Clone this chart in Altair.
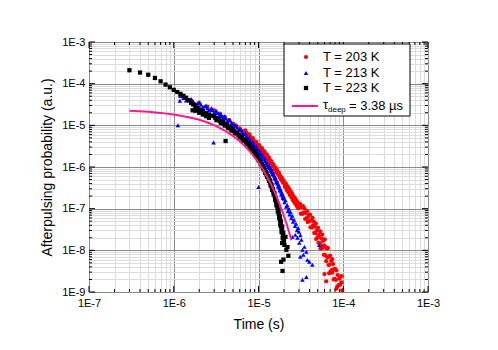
import altair as alt
import pandas as pd

FONT = "Liberation Sans, Arial, sans-serif"

# ---------------- data (time in microseconds, probability in a.u.) ----------------
t203_us = [1.2, 1.6, 2.0, 2.5, 3.0, 3.5, 4.0, 4.5, 5.0, 5.5, 6.0, 6.5,
           7.0, 7.4, 7.8, 8.2, 8.6, 9.0, 9.4, 9.8, 10.2, 10.6, 11.0, 11.4, 11.8, 12.2, 12.6, 13.0, 13.4, 13.8,
           14.2, 14.6, 15.0, 15.4, 15.8, 16.2, 16.6, 17.0, 17.4, 17.8, 18.2, 18.6, 19.0, 19.4, 19.8,
           20.5, 21.0, 21.5, 22.0, 22.5, 23.0, 23.5, 24.0, 24.5, 25.0, 25.5, 26.0, 26.5, 27.0, 27.5, 28.0,
           28.5, 29.0, 29.5, 30.0,
           31, 31.5, 32, 33, 33.5, 34, 35, 35.5, 36, 37, 37.5, 38, 39, 40, 40.5, 41, 42, 43, 43.5, 44, 45,
           45.5, 46, 47, 47.5, 48, 49, 50, 50.5, 51, 52, 53, 53.5, 54, 55, 56, 56.5, 57, 58, 59, 60, 60.5,
           61, 62, 63, 64, 65, 66, 67, 68, 69, 70, 71, 72, 73, 74, 75, 76, 77, 78, 79, 80, 82, 83, 85, 86,
           88, 90, 92, 95, 97,
           60, 68, 74, 63, 83, 95,
           7.2, 7.6, 8.0, 8.4, 8.8, 9.2, 9.6, 10.0, 10.4, 10.8, 11.2, 11.6, 12.0, 12.4, 12.8, 13.2, 13.6, 14.0,
           14.4, 14.8, 15.2, 15.6, 16.0, 16.4, 16.8, 17.2, 17.6, 18.0, 18.4, 18.8, 19.2, 19.6, 20.0, 20.75,
           21.25, 21.75, 22.25, 22.75, 23.25, 23.75, 24.25, 24.75, 25.25, 25.75, 26.25, 26.75, 27.25, 27.75,
           28.25, 28.75, 29.25, 29.75]
p203 = [5.0e-5, 4.0e-5, 3.4e-5, 2.8e-5, 2.3e-5, 1.9e-5, 1.6e-5, 1.35e-5, 1.1e-5, 9.6e-6, 8.4e-6, 7.3e-6,
        7.62e-6, 5.68e-6, 6.11e-6, 4.55e-6, 4.90e-6, 3.65e-6, 4.02e-6, 3.05e-6, 3.37e-6, 2.56e-6, 2.82e-6,
        2.15e-6, 2.36e-6, 1.80e-6, 1.98e-6, 1.51e-6, 1.66e-6, 1.26e-6, 1.39e-6, 1.06e-6, 1.16e-6, 8.87e-7,
        9.75e-7, 7.52e-7, 8.45e-7, 6.59e-7, 7.26e-7, 5.52e-7, 6.15e-7, 4.79e-7, 5.38e-7, 4.19e-7, 4.71e-7,
        3.33e-7, 4.05e-7, 2.82e-7, 3.43e-7, 2.43e-7, 2.99e-7, 2.11e-7, 2.60e-7, 1.84e-7, 2.26e-7, 1.60e-7,
        1.97e-7, 1.42e-7, 1.77e-7, 1.27e-7, 1.58e-7, 1.14e-7, 1.42e-7, 1.02e-7, 1.27e-7,
        1.30e-7, 7.59e-8, 1.08e-7, 7.53e-8, 1.15e-7, 8.09e-8, 9.98e-8, 5.65e-8, 7.85e-8, 5.92e-8, 8.61e-8,
        4.76e-8, 6.68e-8, 5.02e-8, 7.19e-8, 3.56e-8, 5.30e-8, 3.51e-8, 6.04e-8, 3.95e-8, 4.88e-8, 2.62e-8,
        3.72e-8, 2.58e-8, 4.39e-8, 1.87e-8, 3.05e-8, 2.07e-8, 3.46e-8, 1.52e-8, 2.34e-8, 1.50e-8, 2.87e-8,
        1.10e-8, 1.94e-8, 1.11e-8, 2.39e-8, 1.29e-8, 1.69e-8, 7.83e-9, 1.29e-8, 1.83e-8, 7.69e-9, 1.18e-8,
        5.48e-9, 1.11e-8, 6.79e-9, 1.14e-8, 4.42e-9, 7.10e-9, 4.55e-9, 7.48e-9, 3.13e-9, 5.57e-9, 3.30e-9,
        6.15e-9, 3.39e-9, 4.69e-9, 2.0e-9, 3.50e-9, 2.07e-9, 3.6e-9, 1.96e-9, 3.32e-9, 1.34e-9, 2.55e-9,
        1.46e-9, 2.09e-9, 1.5e-9, 1.7e-9, 1.1e-9,
        2.7e-9, 2.8e-9, 2.9e-9, 1.8e-9, 1.2e-9, 2.4e-9,
        6.58e-6, 5.89e-6, 5.27e-6, 4.72e-6, 4.23e-6, 3.83e-6, 3.50e-6, 3.21e-6, 2.94e-6, 2.69e-6, 2.46e-6,
        2.25e-6, 2.06e-6, 1.89e-6, 1.73e-6, 1.58e-6, 1.45e-6, 1.32e-6, 1.21e-6, 1.11e-6, 1.02e-6, 9.29e-7,
        8.51e-7, 7.97e-7, 7.46e-7, 6.92e-7, 6.32e-7, 5.79e-7, 5.42e-7, 5.07e-7, 4.75e-7, 4.45e-7, 4.16e-7,
        3.67e-7, 3.38e-7, 3.11e-7, 2.88e-7, 2.69e-7, 2.51e-7, 2.34e-7, 2.19e-7, 2.04e-7, 1.91e-7, 1.78e-7,
        1.67e-7, 1.58e-7, 1.50e-7, 1.42e-7, 1.34e-7, 1.27e-7, 1.20e-7, 1.14e-7]

t213_us = [1.12, 1.18, 2.95, 10.0,
           1.2, 1.4, 1.6, 1.8, 2.0, 2.2, 2.4, 2.6, 2.8, 3.0, 3.2, 3.4, 3.6, 3.8, 4.0, 4.3, 4.6, 5.0, 5.4, 5.8,
           6.2, 6.6, 7.0, 7.4, 7.8, 8.2, 8.6, 9.0, 9.4, 9.8, 10.2, 10.6, 11.0, 11.4, 11.8, 12.2, 12.6, 13.0,
           13.4, 13.8, 14.2, 14.6, 15.0, 15.4, 15.8, 16.2, 16.6, 17.0, 17.4, 17.8, 18.2, 18.6, 19.0, 19.4,
           19.8, 20.3, 20.8, 21.3, 21.8, 22.3, 22.8, 23.3, 23.8, 24.4, 25.0, 25.6, 26.3, 27.0, 27.7, 28.5,
           29.3, 30.0,
           25.1, 27.2, 28.8, 30.3, 31.2, 32.1, 33.0, 34.8, 33.8, 36.7, 31.2, 37.7, 43.2, 52.2, 33.0, 36.7, 39.8,
           1.3, 1.5, 1.7, 1.9, 2.1, 2.3, 2.5, 2.7, 2.9, 3.1, 3.3, 3.5, 3.7, 3.9, 4.15, 4.45, 4.8, 5.2, 5.6, 6.0,
           6.4, 6.8, 7.2, 7.6, 8.0, 8.4, 8.8, 9.2, 9.6, 10.0, 10.4, 10.8, 11.2, 11.6, 12.0, 12.4, 12.8, 13.2,
           13.6, 14.0, 14.4, 14.8, 15.2, 15.6, 16.0, 16.4, 16.8, 17.2, 17.6, 18.0, 18.4, 18.8, 19.2, 19.6, 20.0]
p213 = [1.0e-5, 3.9e-5, 3.85e-6, 3.3e-7,
        5.14e-5, 3.92e-5, 4.27e-5, 3.24e-5, 3.57e-5, 2.72e-5, 2.99e-5, 2.31e-5, 2.59e-5, 2.02e-5, 2.22e-5,
        1.69e-5, 1.88e-5, 1.47e-5, 1.65e-5, 1.24e-5, 1.35e-5, 9.86e-6, 1.04e-5, 7.57e-6, 8.05e-6, 6.0e-6,
        6.46e-6, 4.70e-6, 4.95e-6, 3.65e-6, 3.93e-6, 2.92e-6, 3.15e-6, 2.34e-6, 2.52e-6, 1.88e-6, 2.02e-6,
        1.51e-6, 1.62e-6, 1.21e-6, 1.30e-6, 9.68e-7, 1.07e-6, 8.11e-7, 8.83e-7, 6.59e-7, 7.10e-7, 5.28e-7,
        5.69e-7, 4.24e-7, 4.56e-7, 3.40e-7, 3.66e-7, 2.72e-7, 2.93e-7, 2.18e-7, 2.35e-7, 1.79e-7, 1.97e-7,
        1.42e-7, 1.58e-7, 1.11e-7, 1.23e-7, 8.79e-8, 1.0e-7, 7.24e-8, 8.28e-8, 5.92e-8, 6.75e-8, 4.85e-8,
        5.43e-8, 3.85e-8, 4.32e-8, 3.05e-8, 3.44e-8, 2.78e-8,
        2.1e-8, 2.35e-8, 2.0e-8, 1.51e-8, 2.3e-8, 1.79e-8, 1.03e-8, 1.21e-8, 7.8e-9, 9.2e-9, 7.0e-9,
        5.9e-9, 4.5e-9, 1.35e-8, 1.96e-9, 2.3e-9, 5.3e-9,
        4.54e-5, 4.06e-5, 3.72e-5, 3.40e-5, 3.12e-5, 2.85e-5, 2.61e-5, 2.44e-5, 2.29e-5, 2.12e-5, 1.94e-5,
        1.77e-5, 1.66e-5, 1.55e-5, 1.43e-5, 1.30e-5, 1.16e-5, 1.01e-5, 8.87e-6, 7.76e-6, 6.95e-6, 6.22e-6,
        5.51e-6, 4.83e-6, 4.23e-6, 3.78e-6, 3.39e-6, 3.03e-6, 2.72e-6, 2.43e-6, 2.18e-6, 1.95e-6, 1.75e-6,
        1.56e-6, 1.40e-6, 1.25e-6, 1.12e-6, 1.02e-6, 9.29e-7, 8.51e-7, 7.62e-7, 6.84e-7, 6.12e-7, 5.48e-7,
        4.91e-7, 4.40e-7, 3.94e-7, 3.52e-7, 3.15e-7, 2.82e-7, 2.53e-7, 2.26e-7, 2.05e-7, 1.88e-7, 1.72e-7]

t223_us = [0.3, 0.4, 0.5, 0.6, 0.7, 0.8, 0.9, 1.0, 1.1, 1.2, 1.3, 1.4,
           1.5, 1.6, 1.67, 1.7, 1.8, 1.8, 1.9, 2.0, 2.0, 2.2, 2.2, 2.4, 2.4, 2.6, 2.6, 2.8,
           3.0, 3.2, 3.4, 3.6, 3.8, 4.0, 4.09, 4.2, 4.4, 4.6, 4.8, 5.0, 5.3, 5.6, 6.0, 6.3, 6.6, 7.0, 7.3,
           7.6, 8.0, 8.3, 8.6, 9.0, 9.3, 9.6, 10.0, 10.3, 10.6, 11.0, 11.3, 11.6, 12.0, 12.3, 12.6, 13.0,
           13.3, 13.6, 13.9, 14.2, 14.5, 14.8, 15.1, 15.4, 15.7, 16.0, 16.3, 16.6, 16.9, 17.2, 17.5, 17.8,
           18.1, 18.4, 18.7, 19.0, 19.3, 19.6, 20.0,
           18.5, 19.2, 22.5, 19.7, 21.3, 20.8, 20.2, 18.7, 22.0, 19.0,
           3.1, 3.5, 3.9, 4.3, 4.7, 5.15, 5.45, 5.8, 6.15, 6.45, 6.8, 7.15, 7.45, 7.8, 8.15, 8.45, 8.8, 9.15,
           9.45, 9.8, 10.15, 10.45, 10.8, 11.15, 11.45, 11.8, 12.15, 12.45, 12.8, 13.15, 13.45, 13.75, 14.05,
           14.35, 14.65, 14.95, 15.25, 15.55, 15.85, 16.15, 16.45, 16.75, 17.05, 17.35, 17.65, 17.95, 18.25,
           18.55, 18.85, 19.15, 19.45, 19.8]
p223 = [2.1e-4, 1.85e-4, 1.64e-4, 1.37e-4, 1.14e-4, 9.5e-5, 8.2e-5, 7.1e-5, 6.3e-5, 5.7e-5, 5.1e-5, 4.6e-5,
        3.98e-5, 3.47e-5, 2.3e-5, 3.16e-5, 2.82e-5, 2.24e-5, 2.63e-5, 2.40e-5, 2.0e-5, 2.19e-5, 1.82e-5,
        2.0e-5, 1.66e-5, 1.82e-5, 1.51e-5, 1.70e-5,
        1.66e-5, 1.33e-5, 1.41e-5, 1.14e-5, 1.22e-5, 9.89e-6, 4.2e-6, 1.06e-5, 8.57e-6, 9.18e-6, 7.50e-6,
        8.09e-6, 6.41e-6, 6.70e-6, 5.15e-6, 5.41e-6, 4.32e-6, 4.40e-6, 3.50e-6, 3.68e-6, 2.82e-6, 2.93e-6,
        2.31e-6, 2.32e-6, 1.82e-6, 1.89e-6, 1.44e-6, 1.49e-6, 1.17e-6, 1.18e-6, 9.25e-7, 9.57e-7, 7.26e-7,
        7.52e-7, 5.90e-7, 6.04e-7, 4.63e-7, 4.78e-7, 3.6e-7, 3.83e-7, 2.82e-7, 3.0e-7, 2.21e-7, 2.35e-7,
        1.64e-7, 1.77e-7, 1.2e-7, 1.30e-7, 8.51e-8, 9.35e-8, 5.92e-8, 6.55e-8, 4.02e-8, 4.92e-8, 2.75e-8,
        3.70e-8, 1.98e-8, 2.65e-8, 1.69e-8,
        5.3e-9, 3.2e-9, 7.4e-9, 6.0e-9, 1.03e-8, 2.1e-8, 1.35e-8, 3.5e-8, 1.2e-8, 1.5e-8,
        1.49e-5, 1.27e-5, 1.10e-5, 9.53e-6, 8.30e-6, 7.21e-6, 6.56e-6, 5.87e-6, 5.28e-6, 4.83e-6, 4.36e-6,
        3.93e-6, 3.59e-6, 3.24e-6, 2.88e-6, 2.60e-6, 2.31e-6, 2.06e-6, 1.86e-6, 1.65e-6, 1.47e-6, 1.32e-6,
        1.17e-6, 1.04e-6, 9.40e-7, 8.34e-7, 7.38e-7, 6.65e-7, 5.90e-7, 5.24e-7, 4.72e-7, 4.20e-7, 3.72e-7,
        3.29e-7, 2.91e-7, 2.58e-7, 2.28e-7, 1.99e-7, 1.70e-7, 1.46e-7, 1.25e-7, 1.07e-7, 8.93e-8, 7.45e-8,
        6.21e-8, 5.25e-8, 4.45e-8, 3.77e-8, 3.19e-8, 2.70e-8, 2.29e-8, 1.89e-8]

# fitted curve (tau_deep = 3.38 us)
tfit_us = [0.3, 0.5, 0.7, 1.0, 1.5, 2.0, 2.5, 3.0, 4.0, 5.0, 6.0, 7.0, 8.0, 9.0, 10, 11, 12, 13, 14, 15,
           16, 17, 18, 19, 20, 21, 22, 23, 24, 24.5]
pfit = [2.24e-5, 2.11e-5, 1.99e-5, 1.82e-5, 1.57e-5, 1.36e-5, 1.17e-5, 1.01e-5, 7.5e-6, 5.58e-6, 4.15e-6,
        3.09e-6, 2.30e-6, 1.71e-6, 1.27e-6, 9.45e-7, 7.04e-7, 5.24e-7, 3.90e-7, 2.90e-7, 2.16e-7, 1.60e-7,
        1.19e-7, 8.87e-8, 6.60e-8, 4.91e-8, 3.65e-8, 2.72e-8, 2.02e-8, 1.74e-8]

assert len(t203_us) == len(p203)
assert len(t213_us) == len(p213)
assert len(t223_us) == len(p223)
assert len(tfit_us) == len(pfit)

legend_labels = ["T = 203 K", "T = 213 K", "T = 223 K"]

# axis tick positions (decades and minor 2..9)
x_major = [1e-7, 1e-6, 1e-5, 1e-4, 1e-3]
x_minor = [m * 10.0 ** k for k in range(-7, -3) for m in range(2, 10)]
y_major = [1e-9, 1e-8, 1e-7, 1e-6, 1e-5, 1e-4, 1e-3]
y_minor = [m * 10.0 ** k for k in range(-9, -3) for m in range(2, 10)]

W, H = 339, 250


def frame(t_us, p):
    return pd.DataFrame({"t": [v * 1e-6 for v in t_us], "p": p})


xscale = alt.Scale(type="log", domain=[1e-7, 1e-3], nice=False)
yscale = alt.Scale(type="log", domain=[1e-9, 1e-3], nice=False)

major_test = "abs(log(datum.value)/LN10 - round(log(datum.value)/LN10)) < 0.001"
label_expr = f"({major_test}) ? '1E' + round(log(datum.value)/LN10) : ''"
grid_color = {"condition": {"test": major_test, "value": "#8a8a8a"}, "value": "#dcdcdc"}

x_axis = alt.Axis(values=x_major + x_minor, labelExpr=label_expr, grid=True, gridColor=grid_color,
                  gridWidth=1, ticks=False, domain=False, labelFont=FONT, labelFontSize=11,
                  labelColor="black", labelPadding=5, labelOverlap=False, labelFlush=False,
                  title="Time (s)", titleFont=FONT, titleFontSize=14, titleFontWeight="normal",
                  titleColor="black", titlePadding=9)
y_axis = alt.Axis(values=y_major + y_minor, labelExpr=label_expr, grid=True, gridColor=grid_color,
                  gridWidth=1, ticks=False, domain=False, labelFont=FONT, labelFontSize=11,
                  labelColor="black", labelPadding=4, labelOverlap=False, labelFlush=False,
                  title="Afterpulsing probability (a.u.)", titleFont=FONT, titleFontSize=14,
                  titleFontWeight="normal", titleColor="black", titlePadding=7)

base_grid = alt.Chart(frame(t203_us, p203)).mark_point(opacity=0).encode(
    x=alt.X("t:Q", scale=xscale, axis=x_axis),
    y=alt.Y("p:Q", scale=yscale, axis=y_axis),
)

RED_SIZE, BLUE_SIZE, BLACK_SIZE = 18, 21, 18

red = alt.Chart(frame(t203_us, p203)).mark_point(shape="circle", filled=True, color="#ff0000",
                                                 size=RED_SIZE, opacity=1).encode(
    x=alt.X("t:Q", scale=xscale), y=alt.Y("p:Q", scale=yscale))
blue = alt.Chart(frame(t213_us, p213)).mark_point(shape="triangle-up", filled=True, color="#0000ff",
                                                  size=BLUE_SIZE, opacity=1).encode(
    x=alt.X("t:Q", scale=xscale), y=alt.Y("p:Q", scale=yscale))
black = alt.Chart(frame(t223_us, p223)).mark_point(shape="square", filled=True, color="#000000",
                                                   size=BLACK_SIZE, opacity=1).encode(
    x=alt.X("t:Q", scale=xscale), y=alt.Y("p:Q", scale=yscale))
fit = alt.Chart(frame(tfit_us, pfit)).mark_line(color="#ff1a8c", strokeWidth=2).encode(
    x=alt.X("t:Q", scale=xscale), y=alt.Y("p:Q", scale=yscale))


def xticks(vals, size):
    d = pd.DataFrame({"v": vals})
    bottom = alt.Chart(d).mark_rule(color="black", strokeWidth=1).encode(
        x=alt.X("v:Q", scale=xscale), y=alt.value(H), y2=alt.value(H - size))
    top = alt.Chart(d).mark_rule(color="black", strokeWidth=1).encode(
        x=alt.X("v:Q", scale=xscale), y=alt.value(0), y2=alt.value(size))
    return [bottom, top]


def yticks(vals, size):
    d = pd.DataFrame({"v": vals})
    left = alt.Chart(d).mark_rule(color="black", strokeWidth=1).encode(
        y=alt.Y("v:Q", scale=yscale), x=alt.value(0), x2=alt.value(size))
    right = alt.Chart(d).mark_rule(color="black", strokeWidth=1).encode(
        y=alt.Y("v:Q", scale=yscale), x=alt.value(W - size), x2=alt.value(W))
    return [left, right]


tick_layers = xticks(x_major, 6) + xticks(x_minor, 3) + yticks(y_major, 6) + yticks(y_minor, 3)

# ---------------- legend (drawn by hand) ----------------
one = pd.DataFrame({"a": [0]})
lx0, lx1, ly0, ly1 = 195, 321, 2, 74
leg_box = alt.Chart(one).mark_rect(fill="white", stroke="black", strokeWidth=1).encode(
    x=alt.value(lx0), x2=alt.value(lx1), y=alt.value(ly0), y2=alt.value(ly1))
sym_x = 217
leg_red = alt.Chart(one).mark_point(shape="circle", filled=True, color="#ff0000", size=RED_SIZE,
                                    opacity=1).encode(x=alt.value(sym_x), y=alt.value(15))
leg_blue = alt.Chart(one).mark_point(shape="triangle-up", filled=True, color="#0000ff", size=BLUE_SIZE,
                                     opacity=1).encode(x=alt.value(sym_x), y=alt.value(31))
leg_black = alt.Chart(one).mark_point(shape="square", filled=True, color="#000000", size=BLACK_SIZE,
                                      opacity=1).encode(x=alt.value(sym_x), y=alt.value(46))
leg_line = alt.Chart(one).mark_rule(color="#ff1a8c", strokeWidth=2).encode(
    x=alt.value(203), x2=alt.value(229), y=alt.value(64))


def txt(s, x, y, size=13):
    return alt.Chart(one).mark_text(align="left", baseline="middle", font=FONT, fontSize=size,
                                    color="black").encode(x=alt.value(x), y=alt.value(y), text=alt.value(s))


leg_texts = [txt(legend_labels[0], 234, 15), txt(legend_labels[1], 234, 31), txt(legend_labels[2], 234, 46),
             txt("τ", 234, 63), txt("deep", 239, 68, 8), txt("= 3.38 µs", 260, 64)]

chart = alt.layer(
    base_grid, red, blue, black, fit, *tick_layers,
    leg_box, leg_red, leg_blue, leg_black, leg_line, *leg_texts
).properties(
    width=W, height=H,
    padding={"left": 81, "top": 34, "right": 60, "bottom": 50},
    autosize="none",
).configure_view(stroke="black", strokeWidth=1).configure(background="white")

chart.save("out.html", embed_options={"renderer": "svg", "actions": False})
